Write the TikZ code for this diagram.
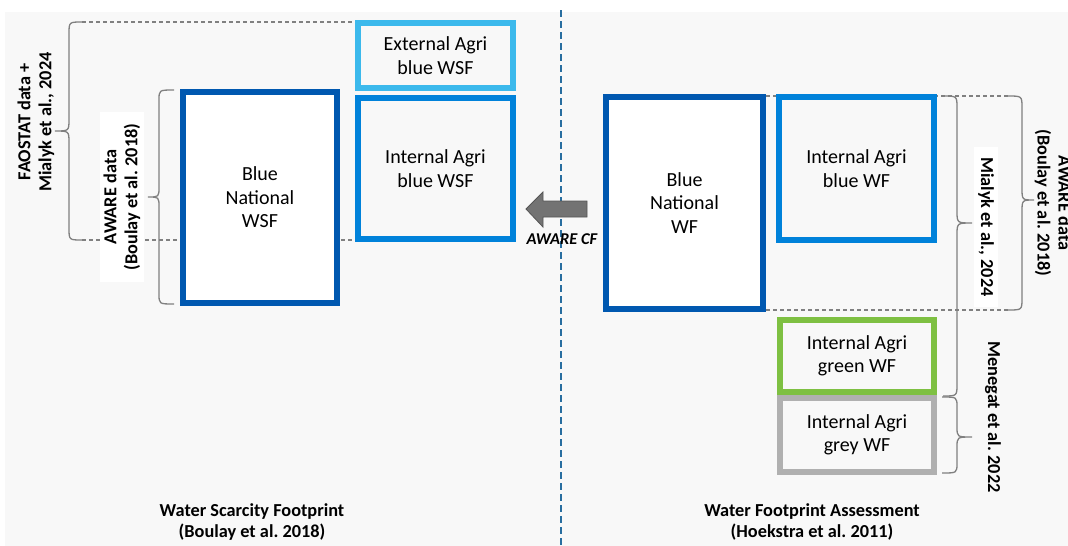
\documentclass[tikz,border=0pt]{standalone}
\usepackage{fontspec}
\setmainfont{Carlito}
\frenchspacing
\definecolor{dblue}{RGB}{0,88,176}
\definecolor{mblue}{RGB}{0,130,218}
\definecolor{lblue}{RGB}{60,185,236}
\definecolor{lgreen}{RGB}{126,192,66}
\definecolor{lgrey}{RGB}{176,176,176}
\definecolor{bracegrey}{RGB}{128,128,128}
\definecolor{bgcol}{RGB}{248,248,248}
\definecolor{vline}{RGB}{40,110,160}
\definecolor{arrowgrey}{RGB}{115,115,115}
\definecolor{arrowedge}{RGB}{85,85,85}
\tikzset{
  box/.style={draw=#1, line width=6.5pt, fill=bgcol, align=center, inner sep=0pt,
    font=\fontsize{20}{23.5}\selectfont},
  lbl/.style={font=\bfseries\fontsize{18.3}{21}\selectfont, align=center, inner sep=3pt},
  dashln/.style={draw=bracegrey, line width=1.2pt, dash pattern=on 4pt off 3pt},
  bracestyle/.style={draw=bracegrey, line width=1.3pt},
}
\begin{document}
\begin{tikzpicture}[x=1pt,y=-1pt]
\useasboundingbox (0,0) rectangle (1068,546);
\fill[bgcol] (5,12) rectangle (1068,546);
% dashed guide lines
\coordinate (lt1) at (82,22);  \coordinate (lt2) at (355,22);
\coordinate (lb1) at (82,240); \coordinate (lb2) at (355,240);
\coordinate (rt1) at (766,96); \coordinate (rt2) at (1008,96);
\coordinate (rb1) at (766,310); \coordinate (rb2) at (1008,310);
\draw[dashln] (lt1) -- (lt2);
\draw[dashln] (lb1) -- (lb2);
\draw[dashln] (rt1) -- (rt2);
\draw[dashln] (rb1) -- (rb2);
% vertical divider
\coordinate (vt) at (561,10); \coordinate (vb) at (561,546);
\draw[vline, line width=1.3pt, dash pattern=on 7pt off 4pt] (vt) -- (vb);
% boxes
\node[box=dblue, fill=white, minimum width=154pt, minimum height=211pt] (bnwsf) at (260,197.5) {Blue\\National\\WSF};
\node[box=lblue, minimum width=155pt, minimum height=65pt] (ext) at (435.5,55.5) {External Agri\\blue WSF};
\node[box=mblue, minimum width=155pt, minimum height=141pt] (intwsf) at (435.5,168.5) {Internal Agri\\blue WSF};
\node[box=dblue, fill=white, minimum width=157pt, minimum height=212pt] (bnwf) at (684.5,203) {Blue\\National\\WF};
\node[box=mblue, minimum width=155pt, minimum height=143pt] (intwf) at (856.5,168.5) {Internal Agri\\blue WF};
\node[box=lgreen, minimum width=154pt, minimum height=72pt] (green) at (857,356) {Internal Agri\\green WF};
\node[box=lgrey, minimum width=154pt, minimum height=74pt] (grey) at (857,435) {Internal Agri\\grey WF};
% braces
\draw[bracestyle] (82,22) .. controls (69,22) .. (69,34) -- (69,119) .. controls (69,131) .. (55,131)
  .. controls (69,131) .. (69,143) -- (69,228) .. controls (69,240) .. (82,240);
\draw[bracestyle] (174,90) .. controls (159,90) .. (159,100) -- (159,187) .. controls (159,197) .. (148,197)
  .. controls (159,197) .. (159,207) -- (159,294) .. controls (159,304) .. (174,304);
\draw[bracestyle] (943,96) .. controls (957,96) .. (957,108) -- (957,211) .. controls (957,223) .. (972,223)
  .. controls (957,223) .. (957,235) -- (957,384) .. controls (957,396) .. (943,396);
\draw[bracestyle] (1008,96) .. controls (1022,96) .. (1022,108) -- (1022,188) .. controls (1022,200) .. (1034,200)
  .. controls (1022,200) .. (1022,212) -- (1022,298) .. controls (1022,310) .. (1008,310);
\draw[bracestyle] (942,397) .. controls (957,397) .. (957,407) -- (957,427) .. controls (957,437) .. (972,437)
  .. controls (957,437) .. (957,447) -- (957,463) .. controls (957,473) .. (942,473);
% brace labels
\node[lbl, rotate=90] (fao) at (36,122) {FAOSTAT data +\\Mialyk et al., 2024};
\node[lbl, rotate=90, fill=white, inner xsep=12pt, inner ysep=4pt] (awl) at (122,197) {AWARE data\\(Boulay et al. 2018)};
\node[lbl, rotate=-90, fill=white, inner xsep=10pt, inner ysep=4pt] (mia) at (986,227) {Mialyk et al., 2024};
\node[lbl, rotate=-90] (awr) at (1053,203) {AWARE data\\(Boulay et al. 2018)};
\node[lbl, rotate=-90] (men) at (993,417) {Menegat et al. 2022};
% arrow
\draw[fill=arrowgrey, draw=arrowedge, line width=0.8pt] (587,201) -- (543,201) -- (543,192) -- (526,209)
  -- (543,227) -- (543,217) -- (587,217) -- cycle;
\node[font=\bfseries\itshape\fontsize{16.5}{19}\selectfont, inner sep=0pt] (cf) at (562,239) {AWARE CF};
% bottom titles
\node[lbl] (wsf) at (252,522) {Water Scarcity Footprint\\(Boulay et al. 2018)};
\node[lbl] (wfa) at (812,522) {Water Footprint Assessment\\(Hoekstra et al. 2011)};
\end{tikzpicture}
\end{document}
